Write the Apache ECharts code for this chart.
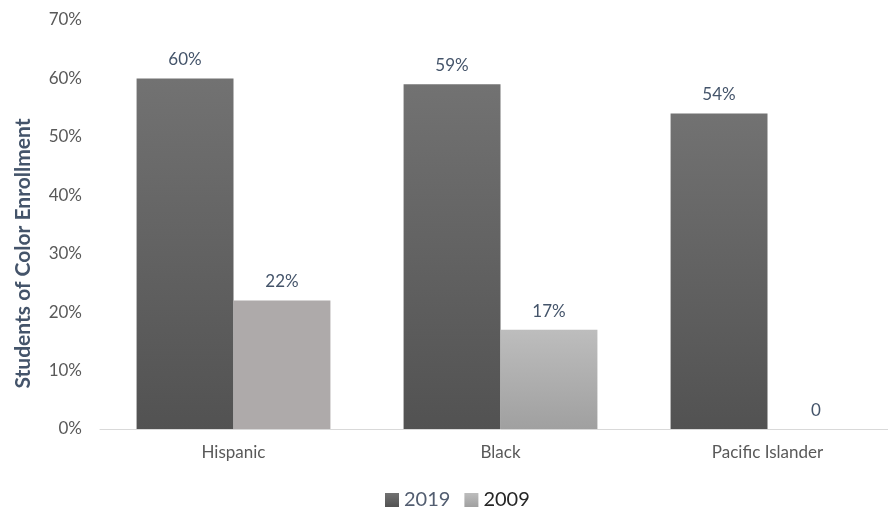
<!DOCTYPE html>
<html>
<head>
<meta charset="utf-8">
<script src="https://cdn.jsdelivr.net/npm/echarts@6/dist/echarts.min.js"></script>
<style>
  html, body { margin: 0; padding: 0; background: #fff; overflow: hidden; }
  #chart { width: 905px; height: 508px; }
</style>
</head>
<body>
<div id="chart"></div>
<script>
// data
const categories = ['Hispanic', 'Black', 'Pacific Islander'];
const values2019 = [60, 59, 54];
const values2009 = [22, 17, 0];
const yTicks = [0, 10, 20, 30, 40, 50, 60, 70];

const font = 'Lato';
const textColor = '#44546a';

const grad = (top, bottom) => new echarts.graphic.LinearGradient(0, 0, 0, 1, [
  { offset: 0, color: top },
  { offset: 1, color: bottom },
]);

const chart = echarts.init(document.getElementById('chart'));

chart.setOption({
  animation: false,
  textStyle: { fontFamily: font },
  grid: { left: 100, top: 20, width: 801, height: 409, containLabel: false },
  legend: {
    data: [
      { name: '2019', textStyle: { color: '#525d70' } },
      { name: '2009', textStyle: { color: '#262626' } },
    ],
    left: 380,
    top: 485,
    itemWidth: 14,
    itemHeight: 14,
    itemGap: 14,
    icon: 'rect',
    textStyle: { fontSize: 20, fontFamily: font },
  },
  xAxis: {
    type: 'category',
    data: categories,
    axisTick: { show: false },
    axisLine: { lineStyle: { color: '#d9d9d9', width: 1 } },
    axisLabel: { color: '#595959', fontSize: 17, margin: 15 },
  },
  yAxis: {
    type: 'value',
    min: yTicks[0],
    max: yTicks[yTicks.length - 1],
    interval: 10,
    splitLine: { show: false },
    axisLine: { show: false },
    axisTick: { show: false },
    axisLabel: { color: '#595959', fontSize: 17, margin: 18, formatter: v => v + '%' },
    name: 'Students of Color Enrollment',
    nameLocation: 'middle',
    nameGap: 66,
    nameTextStyle: {
      fontSize: 21, fontWeight: 'bold', color: textColor,
      padding: [0, 58, 0, 0],
    },
  },
  series: [
    {
      name: '2019',
      type: 'bar',
      data: values2019,
      barWidth: '36.3%',
      barGap: '0%',
      itemStyle: { color: grad('#727272', '#525252') },
      label: {
        show: true, position: 'top', distance: 10,
        color: textColor, fontSize: 17, formatter: p => p.value + '%',
      },
    },
    {
      name: '2009',
      type: 'bar',
      data: values2009.map((v, i) => i === 0
        ? { value: v, itemStyle: { color: '#aeaaaa' } }
        : { value: v }),
      barWidth: '36.3%',
      itemStyle: { color: grad('#bdbdbd', '#a0a0a0') },
      label: {
        show: true, position: 'top', distance: 10,
        color: textColor, fontSize: 17,
        formatter: p => (p.value === 0 ? '0' : p.value + '%'),
      },
    },
  ],
});
</script>
</body>
</html>
